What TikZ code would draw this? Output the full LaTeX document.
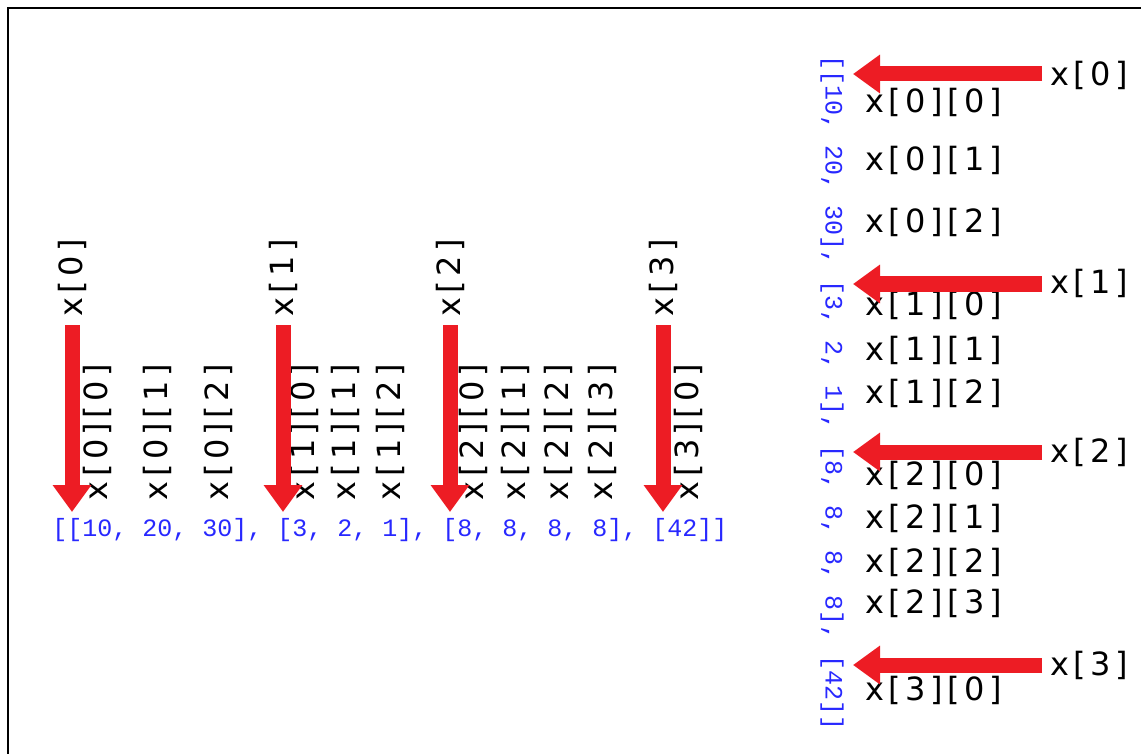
\documentclass[tikz,border=0pt]{standalone}
\usepackage{fontspec}
\setmainfont{DejaVu Sans}[LetterSpace=14]
\newfontfamily\codefont{Liberation Mono}
\usetikzlibrary{arrows.meta}
\definecolor{arrowred}{RGB}{237,28,36}
\definecolor{listblue}{RGB}{40,40,255}
\tikzset{
    idx/.style={font=\fontsize{32}{32}\selectfont, inner sep=0pt},
    lst/.style={font=\codefont\fontsize{25}{25}\selectfont, text=listblue, inner sep=0pt},
    bigarrow/.style={arrowred, line width=15pt, -{Triangle[width=37pt,length=27pt]}}
}
\begin{document}
\begin{tikzpicture}[x=1pt,y=-1pt]
    % Frame
    \useasboundingbox (0,0) rectangle (1141,754);
    \draw[line width=2pt] (8,754) -- (8,8) -- (1141,8);

    % Horizontal list: outer indices
    \node[idx, rotate=90] (h0) at (72,278) {x[0]};
    \node[idx, rotate=90] (h1) at (283,278) {x[1]};
    \node[idx, rotate=90] (h2) at (450,278) {x[2]};
    \node[idx, rotate=90] (h3) at (663,278) {x[3]};

    % Horizontal list: inner indices
    \node[idx, rotate=90] (h00) at (97,432) {x[0][0]};
    \node[idx, rotate=90] (h01) at (157,432) {x[0][1]};
    \node[idx, rotate=90] (h02) at (218,432) {x[0][2]};
    \node[idx, rotate=90] (h10) at (304,432) {x[1][0]};
    \node[idx, rotate=90] (h11) at (345,432) {x[1][1]};
    \node[idx, rotate=90] (h12) at (390,432) {x[1][2]};
    \node[idx, rotate=90] (h20) at (473,432) {x[2][0]};
    \node[idx, rotate=90] (h21) at (515,432) {x[2][1]};
    \node[idx, rotate=90] (h22) at (558,432) {x[2][2]};
    \node[idx, rotate=90] (h23) at (602,432) {x[2][3]};
    \node[idx, rotate=90] (h30) at (688,432) {x[3][0]};

    \node[lst] (hlist) at (390,530) {[[10, 20, 30], [3, 2, 1], [8, 8, 8, 8], [42]]};

    % Horizontal list: arrows
    \coordinate (h0s) at (72,325);  \coordinate (h0e) at (72,512);
    \coordinate (h1s) at (283,325); \coordinate (h1e) at (283,512);
    \coordinate (h2s) at (450,325); \coordinate (h2e) at (450,512);
    \coordinate (h3s) at (663,325); \coordinate (h3e) at (663,512);
    \draw[bigarrow] (h0s) -- (h0e);
    \draw[bigarrow] (h1s) -- (h1e);
    \draw[bigarrow] (h2s) -- (h2e);
    \draw[bigarrow] (h3s) -- (h3e);

    % Vertical list
    \node[lst, rotate=-90] (vlist) at (832,393) {[[10, 20, 30], [3, 2, 1], [8, 8, 8, 8], [42]]};

    \node[idx, anchor=west] (v0) at (1050,75) {x[0]};
    \node[idx, anchor=west] (v1) at (1050,283) {x[1]};
    \node[idx, anchor=west] (v2) at (1050,452) {x[2]};
    \node[idx, anchor=west] (v3) at (1050,665) {x[3]};

    \node[idx, anchor=west] (v00) at (865,102) {x[0][0]};
    \node[idx, anchor=west] (v01) at (865,160) {x[0][1]};
    \node[idx, anchor=west] (v02) at (865,222) {x[0][2]};
    \node[idx, anchor=west] (v10) at (865,305) {x[1][0]};
    \node[idx, anchor=west] (v11) at (865,350) {x[1][1]};
    \node[idx, anchor=west] (v12) at (865,393) {x[1][2]};
    \node[idx, anchor=west] (v20) at (865,475) {x[2][0]};
    \node[idx, anchor=west] (v21) at (865,518) {x[2][1]};
    \node[idx, anchor=west] (v22) at (865,562) {x[2][2]};
    \node[idx, anchor=west] (v23) at (865,603) {x[2][3]};
    \node[idx, anchor=west] (v30) at (865,690) {x[3][0]};

    % Vertical list: arrows
    \coordinate (v0s) at (1042,74);  \coordinate (v0e) at (853,74);
    \coordinate (v1s) at (1042,284); \coordinate (v1e) at (853,284);
    \coordinate (v2s) at (1042,452); \coordinate (v2e) at (853,452);
    \coordinate (v3s) at (1042,665); \coordinate (v3e) at (853,665);
    \draw[bigarrow] (v0s) -- (v0e);
    \draw[bigarrow] (v1s) -- (v1e);
    \draw[bigarrow] (v2s) -- (v2e);
    \draw[bigarrow] (v3s) -- (v3e);
\end{tikzpicture}
\end{document}
